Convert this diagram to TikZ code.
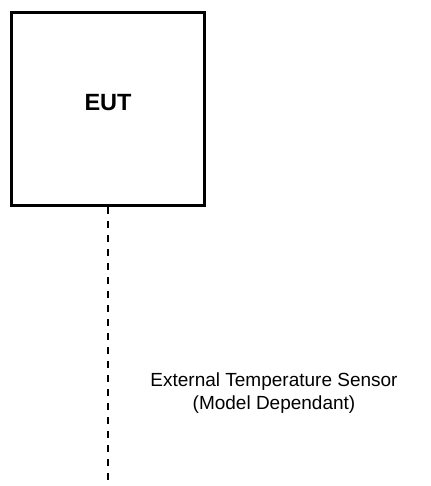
\documentclass[tikz,border=0pt]{standalone}
\usepackage{fontspec}
\setmainfont{Liberation Sans}
\usetikzlibrary{positioning, calc}

\begin{document}
\begin{tikzpicture}[x=1pt, y=1pt, box/.style={rectangle, draw, line width=3pt, minimum width=193pt, minimum height=193pt, inner sep=0pt}, cable/.style={line width=2pt, dash pattern=on 7pt off 7pt}]

\useasboundingbox (0,0) rectangle (430,-486);

\node[box] (eut) at (108,-109) {};
\node[font=\fontsize{23.5}{28}\selectfont\bfseries] (eutlabel) at (108,-103) {EUT};
\coordinate (end) at (108,-483);
\node[align=center, inner sep=0pt, font=\fontsize{19}{23}\selectfont] (sensor) at (274,-393) {External Temperature Sensor\\(Model Dependant)};

\draw[cable] (eut.south) -- (end);

\end{tikzpicture}
\end{document}
